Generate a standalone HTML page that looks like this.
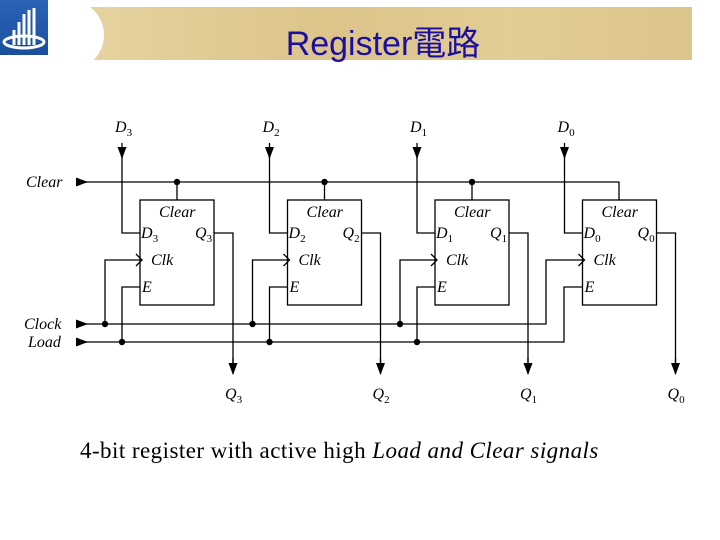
<!DOCTYPE html>
<html><head><meta charset="utf-8"><style>
body{margin:0;width:720px;height:540px;background:#fff;overflow:hidden;position:relative;font-family:"Liberation Serif",serif}
.ban{position:absolute;left:88px;top:7px;width:604px;height:53px;background:linear-gradient(90deg,#e6d3a0,#dcc48a 40%,#e2cd95 70%,#dcc58c)}
.cut{position:absolute;left:60px;top:0;width:44px;height:70px;background:#fff;border-radius:0 40px 40px 0}
.logo{position:absolute;left:0;top:0;width:48px;height:55px;background:linear-gradient(#2a63b8,#1a4f9c)}
.title{position:absolute;left:0;width:766px;top:16px;text-align:center;font:34px "Liberation Sans","Noto Sans CJK TC",sans-serif;color:#1c0fa0}
.cap{position:absolute;left:80px;top:438px;font-size:23px;letter-spacing:0.45px}
tspan{font-style:normal}
</style></head><body>
<div class="ban"></div><div class="cut"></div>
<div class="logo"><svg width="48" height="55"><g stroke="#fff" stroke-width="3" fill="none"><path d="M14 45V30M19 45V22M24 45V14M29 45V10M34 45V8"/><ellipse cx="24" cy="42" rx="20" ry="6"/></g></svg></div>
<div class="title">Register電路</div>
<svg width="720" height="540" style="position:absolute;left:0;top:0" font-family="Liberation Serif,serif" font-style="italic" font-size="16">
<defs><marker id="a" markerWidth="12" markerHeight="9" refX="11" refY="4.5" orient="auto" markerUnits="userSpaceOnUse"><path d="M0,0L12,4.5L0,9z" fill="#000"/></marker></defs>
<g stroke="#000" stroke-width="1.3" fill="none">
<path d="M76 182H87" marker-end="url(#a)"/><path d="M86 182H619V200"/>
<path d="M76 324H87" marker-end="url(#a)"/><path d="M86 324H546V260H583"/>
<path d="M76 342H87" marker-end="url(#a)"/><path d="M86 342H564V287H583"/>
</g>
<text x="26" y="187">Clear</text><text x="24" y="329">Clock</text><text x="28" y="347">Load</text>
<g stroke="#000" stroke-width="1.3" fill="none">
<g transform="translate(0,0)"><rect x="140" y="200" width="74" height="105"/><path d="M122 143V158" marker-end="url(#a)"/><path d="M122 156V233H140M177 182V200M214 233H233V372M105 324V260H140M122 342V287H140M136 254L142 260L136 266"/><path d="M233 358V374" marker-end="url(#a)"/></g>
<g transform="translate(147.5,0)"><rect x="140" y="200" width="74" height="105"/><path d="M122 143V158" marker-end="url(#a)"/><path d="M122 156V233H140M177 182V200M214 233H233V372M105 324V260H140M122 342V287H140M136 254L142 260L136 266"/><path d="M233 358V374" marker-end="url(#a)"/></g>
<g transform="translate(295,0)"><rect x="140" y="200" width="74" height="105"/><path d="M122 143V158" marker-end="url(#a)"/><path d="M122 156V233H140M177 182V200M214 233H233V372M105 324V260H140M122 342V287H140M136 254L142 260L136 266"/><path d="M233 358V374" marker-end="url(#a)"/></g>
<g transform="translate(442.5,0)"><rect x="140" y="200" width="74" height="105"/><path d="M122 143V158" marker-end="url(#a)"/><path d="M122 156V233H140M214 233H233V372M136 254L142 260L136 266"/><path d="M233 358V374" marker-end="url(#a)"/></g>
</g>
<g fill="#000">
<circle cx="177" cy="182" r="3.2"/><circle cx="324.5" cy="182" r="3.2"/><circle cx="472" cy="182" r="3.2"/>
<circle cx="105" cy="324" r="3.2"/><circle cx="252.5" cy="324" r="3.2"/><circle cx="400" cy="324" r="3.2"/>
<circle cx="122" cy="342" r="3.2"/><circle cx="269.5" cy="342" r="3.2"/><circle cx="417" cy="342" r="3.2"/>
</g>
<g>
<g transform="translate(0,0)"><text x="115" y="132">D<tspan font-size="11" dy="4">3</tspan></text><text x="159" y="217">Clear</text><text x="141" y="238">D<tspan font-size="11" dy="4">3</tspan></text><text x="195" y="238">Q<tspan font-size="11" dy="4">3</tspan></text><text x="151" y="265">Clk</text><text x="142" y="292">E</text><text x="225" y="399">Q<tspan font-size="11" dy="4">3</tspan></text></g>
<g transform="translate(147.5,0)"><text x="115" y="132">D<tspan font-size="11" dy="4">2</tspan></text><text x="159" y="217">Clear</text><text x="141" y="238">D<tspan font-size="11" dy="4">2</tspan></text><text x="195" y="238">Q<tspan font-size="11" dy="4">2</tspan></text><text x="151" y="265">Clk</text><text x="142" y="292">E</text><text x="225" y="399">Q<tspan font-size="11" dy="4">2</tspan></text></g>
<g transform="translate(295,0)"><text x="115" y="132">D<tspan font-size="11" dy="4">1</tspan></text><text x="159" y="217">Clear</text><text x="141" y="238">D<tspan font-size="11" dy="4">1</tspan></text><text x="195" y="238">Q<tspan font-size="11" dy="4">1</tspan></text><text x="151" y="265">Clk</text><text x="142" y="292">E</text><text x="225" y="399">Q<tspan font-size="11" dy="4">1</tspan></text></g>
<g transform="translate(442.5,0)"><text x="115" y="132">D<tspan font-size="11" dy="4">0</tspan></text><text x="159" y="217">Clear</text><text x="141" y="238">D<tspan font-size="11" dy="4">0</tspan></text><text x="195" y="238">Q<tspan font-size="11" dy="4">0</tspan></text><text x="151" y="265">Clk</text><text x="142" y="292">E</text><text x="225" y="399">Q<tspan font-size="11" dy="4">0</tspan></text></g>
</g>
</svg>
<div class="cap">4-bit register with active high <i>Load and Clear signals</i></div>
</body></html>
